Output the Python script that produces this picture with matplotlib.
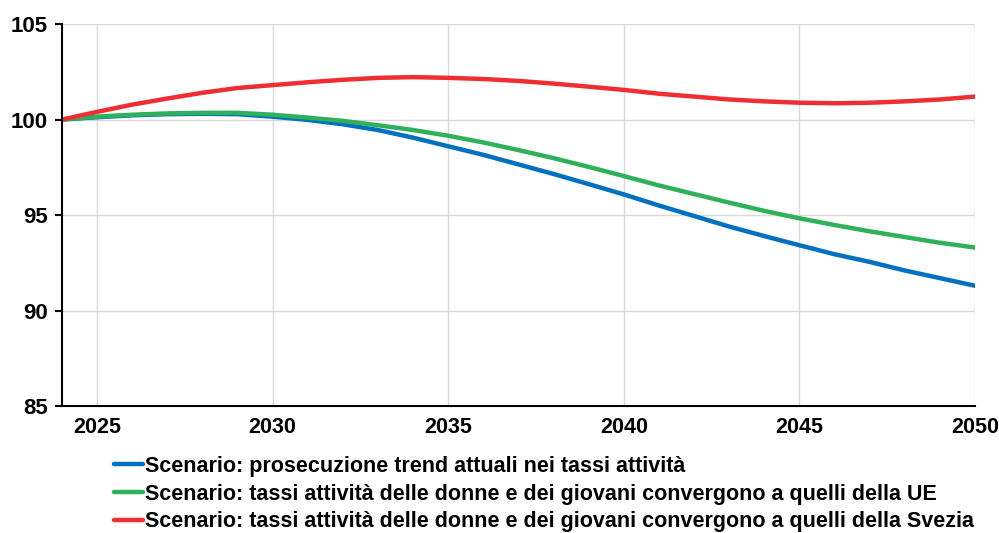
import matplotlib.pyplot as plt

plt.rcParams['font.family'] = ['Liberation Sans', 'DejaVu Sans']
plt.rcParams['font.weight'] = 'bold'

# dati
anni = list(range(2024, 2051))
trend_attuali = [100.0, 100.12, 100.22, 100.28, 100.3, 100.28, 100.15, 99.98, 99.75, 99.45,
                 99.05, 98.6, 98.15, 97.65, 97.15, 96.62, 96.08, 95.5, 94.95, 94.4,
                 93.9, 93.42, 92.95, 92.55, 92.1, 91.7, 91.3]
conv_ue = [100.0, 100.15, 100.25, 100.32, 100.35, 100.35, 100.25, 100.1, 99.93, 99.7,
           99.45, 99.15, 98.8, 98.4, 97.98, 97.52, 97.04, 96.55, 96.1, 95.65,
           95.22, 94.83, 94.48, 94.15, 93.85, 93.55, 93.3]
conv_svezia = [100.0, 100.4, 100.78, 101.1, 101.4, 101.65, 101.8, 101.95, 102.08, 102.18,
               102.22, 102.18, 102.12, 102.02, 101.88, 101.72, 101.55, 101.35, 101.2, 101.05,
               100.95, 100.88, 100.85, 100.88, 100.95, 101.05, 101.2]

etichette = [
    "Scenario: prosecuzione trend attuali nei tassi attività",
    "Scenario: tassi attività delle donne e dei giovani convergono a quelli della UE",
    "Scenario: tassi attività delle donne e dei giovani convergono a quelli della Svezia",
]
colori = ["#0070C0", "#2EB15A", "#EE2E33"]

fig = plt.figure(figsize=(9.99, 5.33), dpi=100)
ax = fig.add_axes([0.062, 0.238, 0.914, 0.717])

for serie, lab, c in zip([trend_attuali, conv_ue, conv_svezia], etichette, colori):
    ax.plot(anni, serie, color=c, lw=3.2, label=lab, solid_capstyle='round')

ax.set_xlim(2024, 2050)
ax.set_ylim(85, 105)
ax.set_xticks([2025, 2030, 2035, 2040, 2045, 2050])
ax.set_yticks([85, 90, 95, 100, 105])
ax.grid(True, color='#D9D9D9', lw=1)
ax.set_axisbelow(True)

for s in ['top', 'right']:
    ax.spines[s].set_visible(False)
for s in ['left', 'bottom']:
    ax.spines[s].set_linewidth(1.5)

ax.tick_params(axis='y', length=5, width=1.5, labelsize=16, pad=5)
ax.tick_params(axis='x', length=0, labelsize=15.5, pad=8)

fig.legend(loc='upper left', bbox_to_anchor=(0.114, 0.145), frameon=False,
           fontsize=15.5, handlelength=1.35, handletextpad=0.08, labelspacing=0.32,
           borderaxespad=0, borderpad=0)

plt.savefig("out.png", dpi=100)
